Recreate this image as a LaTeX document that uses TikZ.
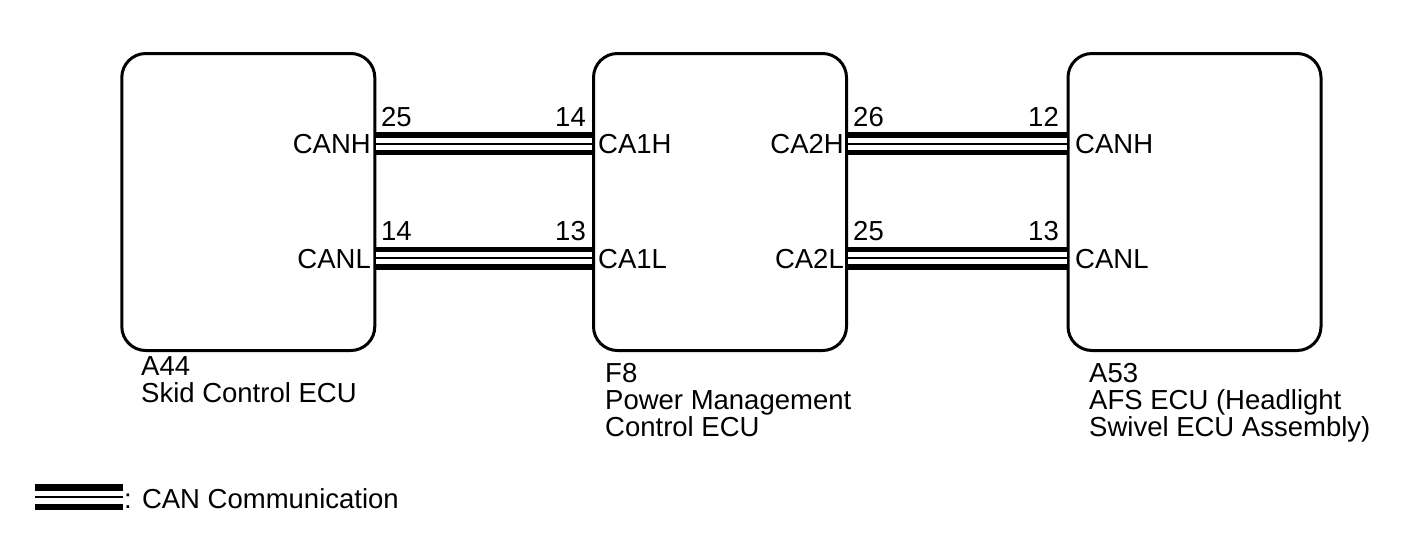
\documentclass[tikz,border=0pt]{standalone}
\usepackage{fontspec}
\setmainfont{Liberation Sans}
\begin{document}
\begin{tikzpicture}[x=1pt,y=-1pt,
 ecu/.style={draw, line width=3pt, rounded corners=24pt, minimum width=253pt, minimum height=297pt, inner sep=0pt},
 can/.style={line width=23pt, postaction={draw=white,line width=12pt}, postaction={draw=black,line width=2pt}},
 canleg/.style={line width=26pt, postaction={draw=white,line width=13pt}, postaction={draw=black,line width=2.5pt}},
 lbl/.style={inner sep=0pt, font=\fontsize{27.5}{27}\selectfont},
]
\useasboundingbox[fill=white] (0,0) rectangle (1424,558);
\node[ecu] (b1) at (248.3,202) {};
\node[ecu] (b2) at (720,202) {};
\node[ecu] (b3) at (1194.5,202) {};
\coordinate (yh) at (0,143.5);
\coordinate (yl) at (0,258);
\draw[can] (b1.east |- yh) -- (b2.west |- yh);
\draw[can] (b1.east |- yl) -- (b2.west |- yl);
\draw[can] (b2.east |- yh) -- (b3.west |- yh);
\draw[can] (b2.east |- yl) -- (b3.west |- yl);
% left connection labels
\node[lbl, anchor=base west] (p1) at (381,126) {25};
\node[lbl, anchor=base east] (p2) at (586,126) {14};
\node[lbl, anchor=base east] (t1) at (371,153.3) {CANH};
\node[lbl, anchor=base west] (t2) at (598,153.3) {CA1H};
\node[lbl, anchor=base west] (p3) at (381,240) {14};
\node[lbl, anchor=base east] (p4) at (586,240) {13};
\node[lbl, anchor=base east] (t3) at (371,268) {CANL};
\node[lbl, anchor=base west] (t4) at (598,268) {CA1L};
% right connection labels
\node[lbl, anchor=base west] (p5) at (853,126) {26};
\node[lbl, anchor=base east] (p6) at (1059,126) {12};
\node[lbl, anchor=base east] (t5) at (844,153.3) {CA2H};
\node[lbl, anchor=base west] (t6) at (1075,153.3) {CANH};
\node[lbl, anchor=base west] (p7) at (853,240) {25};
\node[lbl, anchor=base east] (p8) at (1059,240) {13};
\node[lbl, anchor=base east] (t7) at (844,268) {CA2L};
\node[lbl, anchor=base west] (t8) at (1075,268) {CANL};
% ECU names
\node[lbl, anchor=base west] (n1a) at (141,375) {A44};
\node[lbl, anchor=base west] (n1b) at (141,402) {Skid Control ECU};
\node[lbl, anchor=base west] (n2a) at (605,382) {F8};
\node[lbl, anchor=base west] (n2b) at (605,409) {Power Management};
\node[lbl, anchor=base west] (n2c) at (605,436) {Control ECU};
\node[lbl, anchor=base west] (n3a) at (1089,382) {A53};
\node[lbl, anchor=base west] (n3b) at (1089,409) {AFS ECU (Headlight};
\node[lbl, anchor=base west] (n3c) at (1089,436) {Swivel ECU Assembly)};
% legend
\coordinate (l1) at (35,497);
\coordinate (l2) at (123,497);
\draw[canleg] (l1) -- (l2);
\node[lbl, anchor=base west] (leg) at (124,508) {: CAN Communication};
\end{tikzpicture}
\end{document}
